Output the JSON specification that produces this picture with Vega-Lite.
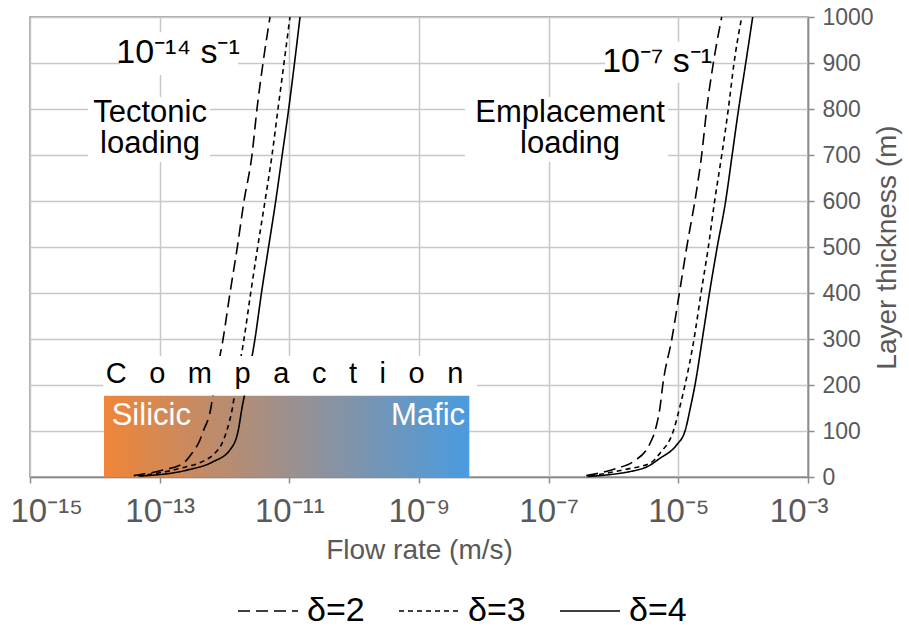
{
  "$schema": "https://vega.github.io/schema/vega-lite/v6.json",
  "width": 778,
  "height": 460,
  "autosize": {"type": "none"},
  "padding": {"left": 30, "top": 17, "right": 101, "bottom": 153},
  "background": "white",
  "config": {
    "font": "Liberation Sans",
    "view": {"stroke": "#8c8c8c", "strokeWidth": 1.5}
  },
  "datasets": {
    "curves": [
      {"regime": "tectonic", "delta": "\u03b4=4", "thickness": 2, "flow": 5.012e-14},
      {"regime": "tectonic", "delta": "\u03b4=4", "thickness": 15, "flow": 2.63e-13},
      {"regime": "tectonic", "delta": "\u03b4=4", "thickness": 33, "flow": 6.61e-13},
      {"regime": "tectonic", "delta": "\u03b4=4", "thickness": 59, "flow": 1.216e-12},
      {"regime": "tectonic", "delta": "\u03b4=4", "thickness": 100, "flow": 1.622e-12},
      {"regime": "tectonic", "delta": "\u03b4=4", "thickness": 150, "flow": 1.862e-12},
      {"regime": "tectonic", "delta": "\u03b4=4", "thickness": 200, "flow": 2.188e-12},
      {"regime": "tectonic", "delta": "\u03b4=4", "thickness": 300, "flow": 2.951e-12},
      {"regime": "tectonic", "delta": "\u03b4=4", "thickness": 400, "flow": 3.715e-12},
      {"regime": "tectonic", "delta": "\u03b4=4", "thickness": 500, "flow": 4.786e-12},
      {"regime": "tectonic", "delta": "\u03b4=4", "thickness": 600, "flow": 6.166e-12},
      {"regime": "tectonic", "delta": "\u03b4=4", "thickness": 700, "flow": 7.762e-12},
      {"regime": "tectonic", "delta": "\u03b4=4", "thickness": 800, "flow": 9.772e-12},
      {"regime": "tectonic", "delta": "\u03b4=4", "thickness": 900, "flow": 1.202e-11},
      {"regime": "tectonic", "delta": "\u03b4=4", "thickness": 1000, "flow": 1.462e-11},

      {"regime": "tectonic", "delta": "\u03b4=3", "thickness": 2, "flow": 4.677e-14},
      {"regime": "tectonic", "delta": "\u03b4=3", "thickness": 20, "flow": 2.239e-13},
      {"regime": "tectonic", "delta": "\u03b4=3", "thickness": 35, "flow": 4.786e-13},
      {"regime": "tectonic", "delta": "\u03b4=3", "thickness": 50, "flow": 6.918e-13},
      {"regime": "tectonic", "delta": "\u03b4=3", "thickness": 70, "flow": 8.913e-13},
      {"regime": "tectonic", "delta": "\u03b4=3", "thickness": 100, "flow": 1.081e-12},
      {"regime": "tectonic", "delta": "\u03b4=3", "thickness": 154, "flow": 1.34e-12},
      {"regime": "tectonic", "delta": "\u03b4=3", "thickness": 200, "flow": 1.507e-12},
      {"regime": "tectonic", "delta": "\u03b4=3", "thickness": 300, "flow": 2.0e-12},
      {"regime": "tectonic", "delta": "\u03b4=3", "thickness": 400, "flow": 2.535e-12},
      {"regime": "tectonic", "delta": "\u03b4=3", "thickness": 500, "flow": 3.251e-12},
      {"regime": "tectonic", "delta": "\u03b4=3", "thickness": 600, "flow": 4.217e-12},
      {"regime": "tectonic", "delta": "\u03b4=3", "thickness": 700, "flow": 5.408e-12},
      {"regime": "tectonic", "delta": "\u03b4=3", "thickness": 800, "flow": 6.684e-12},
      {"regime": "tectonic", "delta": "\u03b4=3", "thickness": 900, "flow": 8.279e-12},
      {"regime": "tectonic", "delta": "\u03b4=3", "thickness": 1000, "flow": 1.023e-11},

      {"regime": "tectonic", "delta": "\u03b4=2", "thickness": 3, "flow": 3.981e-14},
      {"regime": "tectonic", "delta": "\u03b4=2", "thickness": 15, "flow": 1.122e-13},
      {"regime": "tectonic", "delta": "\u03b4=2", "thickness": 30, "flow": 2.317e-13},
      {"regime": "tectonic", "delta": "\u03b4=2", "thickness": 52, "flow": 3.162e-13},
      {"regime": "tectonic", "delta": "\u03b4=2", "thickness": 80, "flow": 4.169e-13},
      {"regime": "tectonic", "delta": "\u03b4=2", "thickness": 100, "flow": 4.71e-13},
      {"regime": "tectonic", "delta": "\u03b4=2", "thickness": 150, "flow": 6.166e-13},
      {"regime": "tectonic", "delta": "\u03b4=2", "thickness": 200, "flow": 6.966e-13},
      {"regime": "tectonic", "delta": "\u03b4=2", "thickness": 300, "flow": 9.506e-13},
      {"regime": "tectonic", "delta": "\u03b4=2", "thickness": 400, "flow": 1.216e-12},
      {"regime": "tectonic", "delta": "\u03b4=2", "thickness": 500, "flow": 1.578e-12},
      {"regime": "tectonic", "delta": "\u03b4=2", "thickness": 600, "flow": 2.0e-12},
      {"regime": "tectonic", "delta": "\u03b4=2", "thickness": 700, "flow": 2.655e-12},
      {"regime": "tectonic", "delta": "\u03b4=2", "thickness": 800, "flow": 3.17e-12},
      {"regime": "tectonic", "delta": "\u03b4=2", "thickness": 900, "flow": 3.926e-12},
      {"regime": "tectonic", "delta": "\u03b4=2", "thickness": 1000, "flow": 5.035e-12},

      {"regime": "emplacement", "delta": "\u03b4=4", "thickness": 1, "flow": 3.981e-7},
      {"regime": "emplacement", "delta": "\u03b4=4", "thickness": 19, "flow": 2.884e-6},
      {"regime": "emplacement", "delta": "\u03b4=4", "thickness": 41, "flow": 5.248e-6},
      {"regime": "emplacement", "delta": "\u03b4=4", "thickness": 70, "flow": 9.441e-6},
      {"regime": "emplacement", "delta": "\u03b4=4", "thickness": 100, "flow": 1.268e-5},
      {"regime": "emplacement", "delta": "\u03b4=4", "thickness": 154, "flow": 1.552e-5},
      {"regime": "emplacement", "delta": "\u03b4=4", "thickness": 200, "flow": 1.807e-5},
      {"regime": "emplacement", "delta": "\u03b4=4", "thickness": 300, "flow": 2.344e-5},
      {"regime": "emplacement", "delta": "\u03b4=4", "thickness": 400, "flow": 3.02e-5},
      {"regime": "emplacement", "delta": "\u03b4=4", "thickness": 500, "flow": 3.981e-5},
      {"regime": "emplacement", "delta": "\u03b4=4", "thickness": 600, "flow": 5.37e-5},
      {"regime": "emplacement", "delta": "\u03b4=4", "thickness": 700, "flow": 6.761e-5},
      {"regime": "emplacement", "delta": "\u03b4=4", "thickness": 800, "flow": 8.511e-5},
      {"regime": "emplacement", "delta": "\u03b4=4", "thickness": 900, "flow": 1.096e-4},
      {"regime": "emplacement", "delta": "\u03b4=4", "thickness": 1000, "flow": 1.403e-4},

      {"regime": "emplacement", "delta": "\u03b4=3", "thickness": 2, "flow": 4.365e-7},
      {"regime": "emplacement", "delta": "\u03b4=3", "thickness": 17, "flow": 1.585e-6},
      {"regime": "emplacement", "delta": "\u03b4=3", "thickness": 30, "flow": 3.656e-6},
      {"regime": "emplacement", "delta": "\u03b4=3", "thickness": 52, "flow": 5.248e-6},
      {"regime": "emplacement", "delta": "\u03b4=3", "thickness": 100, "flow": 8.375e-6},
      {"regime": "emplacement", "delta": "\u03b4=3", "thickness": 154, "flow": 1.062e-5},
      {"regime": "emplacement", "delta": "\u03b4=3", "thickness": 200, "flow": 1.268e-5},
      {"regime": "emplacement", "delta": "\u03b4=3", "thickness": 300, "flow": 1.746e-5},
      {"regime": "emplacement", "delta": "\u03b4=3", "thickness": 400, "flow": 2.239e-5},
      {"regime": "emplacement", "delta": "\u03b4=3", "thickness": 500, "flow": 2.904e-5},
      {"regime": "emplacement", "delta": "\u03b4=3", "thickness": 600, "flow": 3.631e-5},
      {"regime": "emplacement", "delta": "\u03b4=3", "thickness": 700, "flow": 4.677e-5},
      {"regime": "emplacement", "delta": "\u03b4=3", "thickness": 800, "flow": 5.902e-5},
      {"regime": "emplacement", "delta": "\u03b4=3", "thickness": 900, "flow": 7.228e-5},
      {"regime": "emplacement", "delta": "\u03b4=3", "thickness": 1000, "flow": 9.506e-5},

      {"regime": "emplacement", "delta": "\u03b4=2", "thickness": 3, "flow": 3.802e-7},
      {"regime": "emplacement", "delta": "\u03b4=2", "thickness": 19, "flow": 1.132e-6},
      {"regime": "emplacement", "delta": "\u03b4=2", "thickness": 33, "flow": 1.995e-6},
      {"regime": "emplacement", "delta": "\u03b4=2", "thickness": 73, "flow": 3.656e-6},
      {"regime": "emplacement", "delta": "\u03b4=2", "thickness": 100, "flow": 4.365e-6},
      {"regime": "emplacement", "delta": "\u03b4=2", "thickness": 154, "flow": 5.248e-6},
      {"regime": "emplacement", "delta": "\u03b4=2", "thickness": 200, "flow": 5.754e-6},
      {"regime": "emplacement", "delta": "\u03b4=2", "thickness": 300, "flow": 7.943e-6},
      {"regime": "emplacement", "delta": "\u03b4=2", "thickness": 400, "flow": 1.038e-5},
      {"regime": "emplacement", "delta": "\u03b4=2", "thickness": 500, "flow": 1.349e-5},
      {"regime": "emplacement", "delta": "\u03b4=2", "thickness": 624, "flow": 1.919e-5},
      {"regime": "emplacement", "delta": "\u03b4=2", "thickness": 700, "flow": 2.291e-5},
      {"regime": "emplacement", "delta": "\u03b4=2", "thickness": 800, "flow": 2.742e-5},
      {"regime": "emplacement", "delta": "\u03b4=2", "thickness": 900, "flow": 3.467e-5},
      {"regime": "emplacement", "delta": "\u03b4=2", "thickness": 1000, "flow": 4.667e-5}
    ]
  },
  "encoding": {
    "x": {
      "field": "flow",
      "type": "quantitative",
      "scale": {"type": "log", "domain": [1e-15, 1e-3], "nice": false},
      "axis": {
        "values": [1e-15, 1e-13, 1e-11, 1e-9, 1e-7, 1e-5, 1e-3],
        "labelExpr": "datum.value < 1e-14 ? '10\u207b\u00b9\u2075' : datum.value < 1e-12 ? '10\u207b\u00b9\u00b3' : datum.value < 1e-10 ? '10\u207b\u00b9\u00b9' : datum.value < 1e-8 ? '10\u207b\u2079' : datum.value < 1e-6 ? '10\u207b\u2077' : datum.value < 1e-4 ? '10\u207b\u2075' : '10\u207b\u00b3'",
        "labelFontSize": 33,
        "labelColor": "#595959",
        "labelPadding": 12,
        "labelFlush": true,
        "labelFlushOffset": 20,
        "labelOverlap": false,
        "tickSize": 6,
        "tickColor": "#8c8c8c",
        "tickWidth": 1.5,
        "domainColor": "#8c8c8c",
        "domainWidth": 1.5,
        "grid": true,
        "gridColor": "#c8c8c8",
        "gridWidth": 1.5,
        "title": "Flow rate (m/s)",
        "titleFontSize": 28,
        "titleFontWeight": "normal",
        "titleColor": "#595959",
        "titlePadding": 8
      }
    },
    "y": {
      "field": "thickness",
      "type": "quantitative",
      "scale": {"domain": [0, 1000], "nice": false},
      "axis": {
        "orient": "right",
        "values": [0, 100, 200, 300, 400, 500, 600, 700, 800, 900, 1000],
        "format": "d",
        "labelFontSize": 23,
        "labelColor": "#595959",
        "labelPadding": 8,
        "labelFlush": false,
        "tickSize": 6,
        "tickColor": "#8c8c8c",
        "tickWidth": 1.5,
        "domainColor": "#8c8c8c",
        "domainWidth": 1.5,
        "grid": true,
        "gridColor": "#c8c8c8",
        "gridWidth": 1.5,
        "title": "Layer thickness (m)",
        "titleAngle": 270,
        "titleFontSize": 28,
        "titleFontWeight": "normal",
        "titleColor": "#595959",
        "titlePadding": 28
      }
    }
  },
  "layer": [
    {
      "data": {"values": [
        {"flow": 2.443e-14, "flow2": 1.614e-12, "thickness": 874, "thickness2": 967},
        {"flow": 7.85e-15, "flow2": 5.98e-13, "thickness": 685, "thickness2": 826},
        {"flow": 7.4e-7, "flow2": 3.08e-5, "thickness": 857, "thickness2": 946},
        {"flow": 5.13e-9, "flow2": 6.93e-6, "thickness": 685, "thickness2": 826}
      ]},
      "mark": {"type": "rect", "fill": "white"},
      "encoding": {"x2": {"field": "flow2"}, "y2": {"field": "thickness2"}}
    },
    {
      "data": {"values": [{"flow": 1.384e-14, "flow2": 5.97e-9, "thickness": 0, "thickness2": 177}]},
      "mark": {
        "type": "rect",
        "fill": {"gradient": "linear", "x1": 0, "y1": 0, "x2": 1, "y2": 0,
          "stops": [{"offset": 0, "color": "#F08538"}, {"offset": 1, "color": "#4A9BE0"}]}
      },
      "encoding": {"x2": {"field": "flow2"}, "y2": {"field": "thickness2"}}
    },
    {
      "data": {"name": "curves"},
      "mark": {"type": "line", "color": "black", "strokeWidth": 1.6, "interpolate": "monotone"},
      "encoding": {
        "detail": {"field": "regime"},
        "order": {"field": "thickness", "type": "quantitative"},
        "strokeDash": {
          "field": "delta",
          "type": "nominal",
          "scale": {"domain": ["\u03b4=2", "\u03b4=3", "\u03b4=4"], "range": [[12, 6], [5, 4], [1, 0]]},
          "legend": {
            "orient": "none",
            "legendX": 207,
            "legendY": 563,
            "direction": "horizontal",
            "title": null,
            "symbolType": "stroke",
            "symbolSize": 3600,
            "symbolStrokeWidth": 1.6,
            "symbolStrokeColor": "black",
            "labelFontSize": 34,
            "labelColor": "black",
            "labelOffset": 8,
            "columnPadding": 30
          }
        }
      }
    },
    {
      "data": {"values": [{"flow": 1.349e-14, "flow2": 7.85e-9, "thickness": 177, "thickness2": 263}]},
      "mark": {"type": "rect", "fill": "white"},
      "encoding": {"x2": {"field": "flow2"}, "y2": {"field": "thickness2"}}
    },
    {
      "data": {"values": [
        {"label": "10\u207b\u00b9\u2074 s\u207b\u00b9", "flow": 1.919e-13, "thickness": 900},
        {"label": "10\u207b\u2077 s\u207b\u00b9", "flow": 4.7e-6, "thickness": 880}
      ]},
      "mark": {"type": "text", "fontSize": 34, "align": "center", "baseline": "alphabetic", "color": "black"},
      "encoding": {"text": {"field": "label"}}
    },
    {
      "data": {"values": [
        {"label": "Tectonic", "flow": 7.1e-14, "thickness": 772},
        {"label": "loading", "flow": 7.1e-14, "thickness": 704},
        {"label": "Emplacement", "flow": 2.14e-7, "thickness": 772},
        {"label": "loading", "flow": 2.14e-7, "thickness": 704}
      ]},
      "mark": {"type": "text", "fontSize": 31, "align": "center", "baseline": "alphabetic", "color": "black"},
      "encoding": {"text": {"field": "label"}}
    },
    {
      "data": {"values": [{"label": "C\u2002 o\u2002 m\u2002 p\u2002 a\u2002 c\u2002 t\u2002 i\u2002 o\u2002 n", "flow": 8.43e-12, "thickness": 204}]},
      "mark": {"type": "text", "fontSize": 29, "align": "center", "baseline": "alphabetic", "color": "black"},
      "encoding": {"text": {"field": "label"}}
    },
    {
      "data": {"values": [{"label": "Silicic", "flow": 1.82e-14, "thickness": 113}]},
      "mark": {"type": "text", "fontSize": 31, "align": "left", "baseline": "alphabetic", "color": "white"},
      "encoding": {"text": {"field": "label"}}
    },
    {
      "data": {"values": [{"label": "Mafic", "flow": 5.13e-9, "thickness": 113}]},
      "mark": {"type": "text", "fontSize": 31, "align": "right", "baseline": "alphabetic", "color": "white"},
      "encoding": {"text": {"field": "label"}}
    }
  ]
}
